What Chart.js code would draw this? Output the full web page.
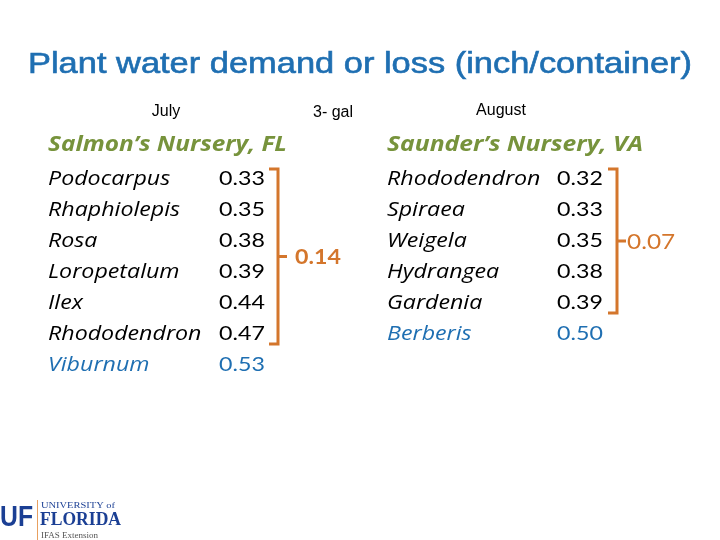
<!DOCTYPE html>
<html>
<head>
<meta charset="utf-8">
<script src="https://cdn.jsdelivr.net/npm/chart.js@4.4.0/dist/chart.umd.min.js"></script>
<style>
  html, body { margin: 0; background: #fff; }
  #wrap { width: 720px; height: 540px; }
</style>
</head>
<body>
<div id="wrap"><canvas id="c"></canvas></div>
<script>
const title = 'Plant water demand or loss (inch/container)';
const subLabels = ['July', '3- gal', 'August'];
const nurseries = ['Salmon’s Nursery, FL', 'Saunder’s Nursery, VA'];

const flPlants = ['Podocarpus', 'Rhaphiolepis', 'Rosa', 'Loropetalum', 'Ilex', 'Rhododendron', 'Viburnum'];
const flValues = [0.33, 0.35, 0.38, 0.39, 0.44, 0.47, 0.53];
const vaPlants = ['Rhododendron', 'Spiraea', 'Weigela', 'Hydrangea', 'Gardenia', 'Berberis'];
const vaValues = [0.32, 0.33, 0.35, 0.38, 0.39, 0.50];

// spread of the bracketed rows
const flRange = 0.14;
const vaRange = 0.07;

const BLUE = '#1f6fb2';
const GREEN = '#77933c';
const ORANGE = '#d4762c';

const sans = "'Liberation Sans', Arial, sans-serif";
const body = "Lato, 'Open Sans', sans-serif";
const italic = "'Open Sans', Lato, sans-serif";
const STRETCH = 1.16; // the slide is stretched sideways

function rows(list) { return list.map((_, i) => ({ x: 0, y: i })); }

function wideText(ctx, s, x, y, sx, outline) {
  ctx.save();
  ctx.translate(x, y);
  ctx.scale(sx, 1);
  ctx.fillText(s, 0, 0);
  if (outline) {
    ctx.strokeStyle = ctx.fillStyle;
    ctx.lineWidth = outline;
    ctx.strokeText(s, 0, 0);
  }
  ctx.restore();
}

function fitText(ctx, s, x, y, w, outline) {
  wideText(ctx, s, x, y, w / ctx.measureText(s).width, outline);
}

const columns = [
  { plants: flPlants, values: flValues, range: flRange, nameX: 48, valX: 219, brX: 278, span: [0, 5], labX: 295, bold: true, head: nurseries[0], headW: 239 },
  { plants: vaPlants, values: vaValues, range: vaRange, nameX: 387, valX: 557, brX: 617, span: [0, 4], labX: 627, bold: false, head: nurseries[1], headW: 256 }
];

const slide = {
  id: 'slide',
  afterDraw(chart) {
    const ctx = chart.ctx;
    const y = chart.scales.y;
    ctx.save();
    ctx.textBaseline = 'alphabetic';
    ctx.textAlign = 'left';

    ctx.fillStyle = BLUE;
    ctx.font = '29px ' + sans;
    fitText(ctx, title, 28, 73, 664, 0.6);

    ctx.fillStyle = '#000';
    ctx.font = '16px ' + sans;
    ctx.textAlign = 'center';
    ctx.fillText(subLabels[0], 166, 116);
    ctx.fillText(subLabels[1], 333, 117);
    ctx.fillText(subLabels[2], 501, 115);

    ctx.textAlign = 'left';
    columns.forEach((col, ci) => {
      const ds = chart.data.datasets[ci];
      const last = ds.data.length - 1;
      ctx.fillStyle = GREEN;
      ctx.font = 'italic bold 22px ' + italic;
      fitText(ctx, col.head, col.nameX, y.getPixelForValue(-1) - 3, col.headW);
      ds.data.forEach((p, i) => {
        const py = y.getPixelForValue(p.y);
        ctx.fillStyle = i === last ? BLUE : '#000';
        ctx.font = 'italic 20px ' + italic;
        wideText(ctx, col.plants[i], col.nameX, py, STRETCH);
        ctx.font = '20px ' + body;
        wideText(ctx, col.values[i].toFixed(2), col.valX, py, STRETCH);
      });
      const top = y.getPixelForValue(col.span[0]) - 16;
      const bot = y.getPixelForValue(col.span[1]) + 4;
      const mid = (top + bot) / 2;
      ctx.strokeStyle = ORANGE;
      ctx.lineWidth = 3;
      ctx.beginPath();
      ctx.moveTo(col.brX - 9, top);
      ctx.lineTo(col.brX, top);
      ctx.lineTo(col.brX, bot);
      ctx.lineTo(col.brX - 9, bot);
      ctx.moveTo(col.brX, mid);
      ctx.lineTo(col.brX + 9, mid);
      ctx.stroke();
      ctx.fillStyle = ORANGE;
      ctx.font = (col.bold ? 'bold 20px ' : '21px ') + body;
      ctx.textBaseline = 'middle';
      wideText(ctx, col.range.toFixed(2), col.labX, mid + 1, STRETCH);
      ctx.textBaseline = 'alphabetic';
    });

    // logo
    ctx.fillStyle = '#1b3f94';
    ctx.font = 'bold 30px ' + sans;
    fitText(ctx, 'UF', 0, 526, 33);
    ctx.strokeStyle = '#e8a060';
    ctx.lineWidth = 1;
    ctx.beginPath();
    ctx.moveTo(37.5, 500);
    ctx.lineTo(37.5, 540);
    ctx.stroke();
    ctx.font = '8px ' + "'Liberation Serif', serif";
    fitText(ctx, 'UNIVERSITY of', 41, 508, 74);
    ctx.font = 'bold 19px ' + "'Liberation Serif', serif";
    fitText(ctx, 'FLORIDA', 40, 525, 81);
    ctx.fillStyle = '#555';
    ctx.font = '9px ' + "'Liberation Serif', serif";
    ctx.fillText('IFAS Extension', 41, 538);
    ctx.restore();
  }
};

new Chart(document.getElementById('c'), {
  type: 'scatter',
  data: {
    datasets: [
      { data: rows(flPlants), pointRadius: 0 },
      { data: rows(vaPlants), pointRadius: 0 }
    ]
  },
  options: {
    responsive: true,
    maintainAspectRatio: false,
    animation: false,
    layout: { padding: 0 },
    plugins: { legend: { display: false }, tooltip: { enabled: false } },
    scales: {
      x: { display: false, min: 0, max: 720 },
      y: { display: false, reverse: true, min: -185 / 31, max: -185 / 31 + 540 / 31 }
    }
  },
  plugins: [slide]
});
</script>
</body>
</html>
